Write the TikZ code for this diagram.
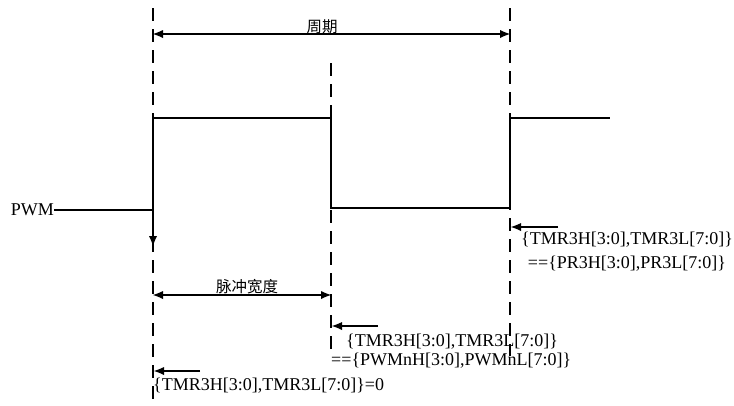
\documentclass[tikz,border=0pt]{standalone}
\usepackage{fontspec}
\setmainfont{Liberation Serif}
\newfontfamily\cjk{Noto Sans CJK SC}
\usetikzlibrary{arrows.meta}
\begin{document}
\begin{tikzpicture}[x=1pt,y=-1pt,
  guide/.style={line width=1.3pt,dash pattern=on 13pt off 8pt},
  wave/.style={line width=1.5pt},
  tip/.tip={Latex[length=10pt,width=8pt,line width=0pt]},
  dim/.style={line width=1.3pt,tip-tip},
  ptr/.style={line width=1.6pt,-tip},
  lbl/.style={inner sep=0pt,font=\fontsize{18}{20}\selectfont},
  clbl/.style={inner sep=0pt,font=\cjk\fontsize{15.5}{17}\selectfont}]
\useasboundingbox (0,0) rectangle (734,405);
% guide coordinates
\coordinate (g1t) at (153,8);
\coordinate (g1b) at (153,405);
\coordinate (g2t) at (331,63);
\coordinate (g2b) at (331,352);
\coordinate (g3t) at (510,8);
\coordinate (g3b) at (510,356);
\draw[guide] (g1t) -- (g1b);
\draw[guide] (g2t) -- (g2b);
\draw[guide] (g3t) -- (g3b);
% period
\coordinate (p1) at (153,34);
\coordinate (p2) at (510,34);
\draw[dim] (p1) -- (p2);
\node[clbl] (period) at (322,27) {周期};
% waveform
\node[lbl,anchor=east] (pwm) at (54,210) {PWM};
\coordinate (w1) at (153,210);
\coordinate (w2) at (153,118);
\coordinate (w3) at (331,118);
\coordinate (w4) at (331,208);
\coordinate (w5) at (510,208);
\coordinate (w6) at (510,118);
\coordinate (w7) at (610,118);
\draw[wave] (pwm.east) -- (w1) -- (w2) -- (w3) -- (w4) -- (w5) -- (w6) -- (w7);
\coordinate (dn) at (153,246);
\draw[ptr] (w1) -- (dn);
% pulse width
\coordinate (q1) at (153,295);
\coordinate (q2) at (331,295);
\draw[dim] (q1) -- (q2);
\node[clbl] (pulse) at (247,287) {脉冲宽度};
% pointer at period end
\coordinate (a3s) at (558,227);
\coordinate (a3e) at (511,227);
\draw[ptr] (a3s) -- (a3e);
\node[lbl,align=center,anchor=north,font=\fontsize{18}{24}\selectfont] (t3) at (627,232) {\{TMR3H[3:0],TMR3L[7:0]\}\\==\{PR3H[3:0],PR3L[7:0]\}};
% pointer at duty end
\coordinate (a2s) at (378,326);
\coordinate (a2e) at (332,326);
\draw[ptr] (a2s) -- (a2e);
\node[lbl,anchor=west] (t2a) at (346,342) {\{TMR3H[3:0],TMR3L[7:0]\}};
\node[lbl,anchor=west] (t2b) at (331,361) {==\{PWMnH[3:0],PWMnL[7:0]\}};
% pointer at start
\coordinate (a1s) at (200,371);
\coordinate (a1e) at (154,371);
\draw[ptr] (a1s) -- (a1e);
\node[lbl,anchor=west] (t1) at (153,386) {\{TMR3H[3:0],TMR3L[7:0]\}=0};
\end{tikzpicture}
\end{document}
